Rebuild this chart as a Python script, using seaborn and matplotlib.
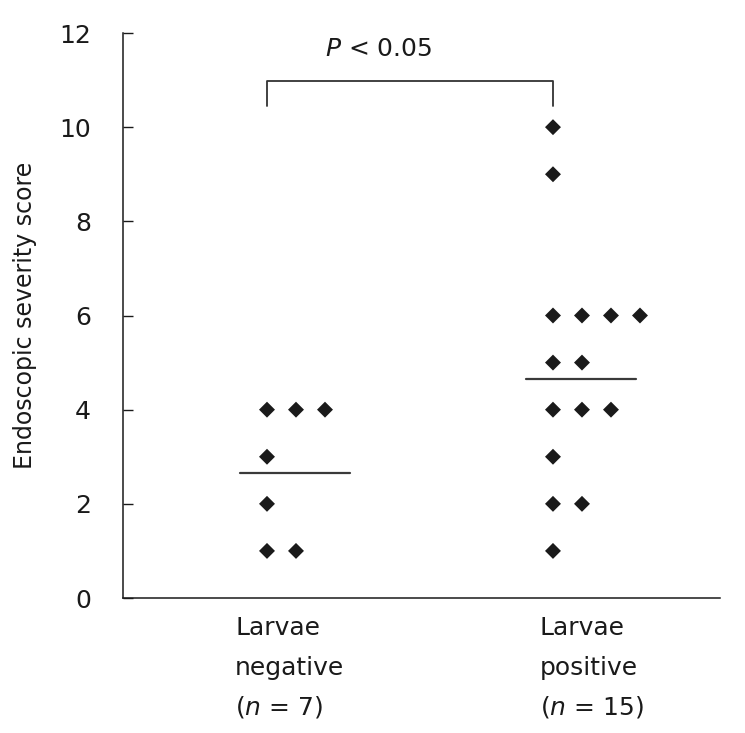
import numpy as np
import pandas as pd
import matplotlib
matplotlib.use("Agg")
import matplotlib.pyplot as plt
import seaborn as sns

# ---- data ----
groups = ["Larvae negative", "Larvae positive"]
group_labels = [["Larvae", "negative", "($\\it{n}$ = 7)"],
                ["Larvae", "positive", "($\\it{n}$ = 15)"]]
neg_scores = [4, 4, 4, 3, 2, 1, 1]
pos_scores = [10, 9, 6, 6, 6, 6, 5, 5, 4, 4, 4, 3, 2, 2, 1]
group_means = [2.65, 4.66]
p_text = "$\\it{P}$ < 0.05"
y_ticks = [0, 2, 4, 6, 8, 10, 12]
y_label = "Endoscopic severity score"

sns.set_theme(style="ticks")
plt.rcParams["font.family"] = ["DejaVu Sans"]
plt.rcParams["mathtext.fontset"] = "dejavusans"

# build a dot-strip table: points with equal score sit side by side
rows = []
step = 0.1014
for gi, scores in enumerate([neg_scores, pos_scores]):
    seen = {}
    for s in scores:
        k = seen.get(s, 0)
        seen[s] = k + 1
        rows.append({"group": groups[gi], "gx": gi + k * step, "score": s})
df = pd.DataFrame(rows)

fig = plt.figure(figsize=(7.45, 7.33), dpi=100)
ax = fig.add_axes([123 / 745, (733 - 598) / 733, (720 - 123) / 745, (598 - 33) / 733])

sns.scatterplot(data=df, x="gx", y="score", marker="D", s=66, color="#1a1a1a",
                edgecolor="none", linewidth=0, ax=ax, legend=False, zorder=3)

# mean lines
for gi, m in enumerate(group_means):
    ax.plot([gi - 0.095, gi + 0.29], [m, m], color="#3a3a3a", lw=1.6, zorder=2)

# significance bracket
ax.plot([0, 0, 1, 1], [10.45, 10.98, 10.98, 10.45], color="#333333", lw=1.3,
        clip_on=False)
ax.text(0.39, 11.51, p_text, ha="center", va="baseline", fontsize=18,
        color="#1a1a1a")

ax.set_xlim(-0.5035, 1.584)
ax.set_ylim(0, 12)
ax.set_yticks(y_ticks)
ax.set_yticklabels([str(t) for t in y_ticks], fontsize=18, color="#1a1a1a")
ax.set_xticks([])
ax.set_xlabel("")
ax.set_ylabel("")
ax.tick_params(axis="y", direction="in", length=7.2, width=1.0, pad=23,
               color="#1a1a1a")
for side in ["top", "right"]:
    ax.spines[side].set_visible(False)
for side in ["left", "bottom"]:
    ax.spines[side].set_linewidth(1.1)
    ax.spines[side].set_color("#1a1a1a")

fig.text(25 / 745, 1 - 315 / 733, y_label, rotation=90, ha="center",
         va="center", fontsize=17, color="#1a1a1a")

# group labels (left aligned, three lines)
label_x = [235, 540]
baselines = [635, 675, 715]
for gi, lines in enumerate(group_labels):
    for line, yb in zip(lines, baselines):
        fig.text(label_x[gi] / 745, 1 - yb / 733, line, ha="left",
                 va="baseline", fontsize=18, color="#1a1a1a")

fig.savefig("out.png", dpi=100)
